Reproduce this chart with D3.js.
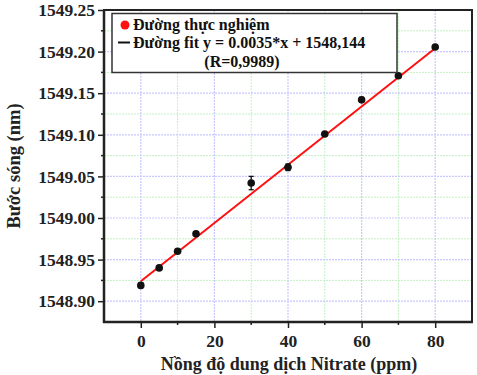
<!DOCTYPE html>
<html><head><meta charset="utf-8">
<script src="https://cdn.jsdelivr.net/npm/d3@7"></script>
<style>body{margin:0;background:#fff}svg{display:block}
svg text{font-family:"Liberation Serif","Times New Roman",Times,serif;font-weight:bold}</style>
</head><body>
<script>
const conc = [0, 5, 10, 15, 30, 40, 50, 60, 70, 80];
const wavelength = [1548.919, 1548.940, 1548.960, 1548.981, 1549.042, 1549.061, 1549.101, 1549.142, 1549.171, 1549.2055];
const errors = [0.003, 0.001, 0.001, 0.002, 0.008, 0.004, 0.001, 0.003, 0.001, 0.001];
const fitSlope = 0.0035, fitIntercept = 1548.924;
const fitRange = [0, 80];
const xTicks = [0, 20, 40, 60, 80];
const xMinor = [-10, 10, 30, 50, 70, 90];
const yTicks = [1548.90, 1548.95, 1549.00, 1549.05, 1549.10, 1549.15, 1549.20, 1549.25];
const yMinor = [1548.925, 1548.975, 1549.025, 1549.075, 1549.125, 1549.175, 1549.225];
const legendLabels = ["Đường thực nghiệm", "Đường fit y = 0.0035*x + 1548,144", "(R=0,9989)"];
const xTitle = "Nồng độ dung dịch Nitrate (ppm)";
const yTitle = "Bước sóng (nm)";

const W = 477, H = 375;
const m = {l:104, t:10, r:472, b:322};
const svg = d3.select("body").append("svg").attr("width", W).attr("height", H);
const x = d3.scaleLinear().domain([-10, 90]).range([m.l, m.r]);
const y = d3.scaleLinear().domain([1548.875, 1549.25]).range([m.b, m.t]);

// grid
const g = svg.append("g");
g.selectAll(".gxm").data(xMinor).join("line").attr("x1", d=>x(d)).attr("x2", d=>x(d)).attr("y1", m.t).attr("y2", m.b)
  .attr("stroke", "#c4f0c4").attr("stroke-width", 1).attr("stroke-dasharray", "2,1");
g.selectAll(".gym").data(yMinor).join("line").attr("y1", d=>y(d)).attr("y2", d=>y(d)).attr("x1", m.l).attr("x2", m.r)
  .attr("stroke", "#c4f0c4").attr("stroke-width", 1).attr("stroke-dasharray", "2,1");
g.selectAll(".gx").data(xTicks).join("line").attr("x1", d=>x(d)).attr("x2", d=>x(d)).attr("y1", m.t).attr("y2", m.b)
  .attr("stroke", "#c8c8ff").attr("stroke-width", 1.2).attr("stroke-dasharray", "2,1");
g.selectAll(".gy").data(yTicks.filter(d=>d<1549.25)).join("line").attr("y1", d=>y(d)).attr("y2", d=>y(d)).attr("x1", m.l).attr("x2", m.r)
  .attr("stroke", "#c8c8ff").attr("stroke-width", 1.2).attr("stroke-dasharray", "2,1");

// axes
const xAxis = d3.axisBottom(x).tickValues(xTicks).tickSize(6).tickSizeOuter(0).tickPadding(7);
const ax = svg.append("g").attr("transform", `translate(0,${m.b})`).call(xAxis);
ax.select(".domain").remove();
const yAxis = d3.axisLeft(y).tickValues(yTicks).tickSize(6).tickSizeOuter(0).tickPadding(3).tickFormat(d3.format(".2f"));
const ay = svg.append("g").attr("transform", `translate(${m.l},0)`).call(yAxis);
ay.select(".domain").remove();
[ax, ay].forEach(a => {
  a.attr("font-family", null);
  a.selectAll("text").attr("font-size", 17.5).attr("fill", "#222");
  a.selectAll("line").attr("stroke", "#222").attr("stroke-width", 1.5);
});
svg.append("g").selectAll("line").data(xMinor.filter(d=>d>-10&&d<90)).join("line")
  .attr("x1", d=>x(d)).attr("x2", d=>x(d)).attr("y1", m.b).attr("y2", m.b+3).attr("stroke", "#222").attr("stroke-width", 1.5);
svg.append("g").selectAll("line").data(yMinor).join("line")
  .attr("y1", d=>y(d)).attr("y2", d=>y(d)).attr("x1", m.l-3).attr("x2", m.l).attr("stroke", "#222").attr("stroke-width", 1.5);

// frame
svg.append("rect").attr("x", m.l).attr("y", m.t).attr("width", m.r-m.l).attr("height", m.b-m.t)
  .attr("fill", "none").attr("stroke", "#222").attr("stroke-width", 2);
svg.append("line").attr("x1", m.l).attr("x2", m.l).attr("y1", m.t).attr("y2", m.b+1).attr("stroke", "#222").attr("stroke-width", 2.5);
svg.append("line").attr("x1", m.l-1).attr("x2", m.r+1).attr("y1", m.b).attr("y2", m.b).attr("stroke", "#222").attr("stroke-width", 2.5);

// fit line
svg.append("line").attr("x1", x(fitRange[0])).attr("y1", y(fitIntercept + fitSlope*fitRange[0]))
  .attr("x2", x(fitRange[1])).attr("y2", y(fitIntercept + fitSlope*fitRange[1]))
  .attr("stroke", "#ff1010").attr("stroke-width", 2);

// error bars & points
const pts = conc.map((c,i)=>({c, v:wavelength[i], e:errors[i]}));
const eb = svg.append("g").attr("stroke", "#111").attr("stroke-width", 1.3);
pts.forEach(p => {
  eb.append("line").attr("x1", x(p.c)).attr("x2", x(p.c)).attr("y1", y(p.v-p.e)).attr("y2", y(p.v+p.e));
  [p.v-p.e, p.v+p.e].forEach(v => eb.append("line").attr("x1", x(p.c)-2.5).attr("x2", x(p.c)+2.5).attr("y1", y(v)).attr("y2", y(v)));
});
svg.append("g").selectAll("circle").data(pts).join("circle")
  .attr("cx", d=>x(d.c)).attr("cy", d=>y(d.v)).attr("r", 3.8).attr("fill", "#111");

// legend
svg.append("rect").attr("x", 112).attr("y", 13.5).attr("width", 285).attr("height", 59)
  .attr("fill", "#fff").attr("stroke", "#333").attr("stroke-width", 1.5);
svg.append("circle").attr("cx", 125).attr("cy", 25).attr("r", 4.5).attr("fill", "#ff1010");
svg.append("line").attr("x1", 118).attr("x2", 130).attr("y1", 42.5).attr("y2", 42.5).attr("stroke", "#111").attr("stroke-width", 2);
const lt = svg.append("g").attr("font-size", 16).attr("fill", "#111");
lt.append("text").attr("x", 133).attr("y", 30).text(legendLabels[0]);
lt.append("text").attr("x", 133).attr("y", 48).text(legendLabels[1]);
lt.append("text").attr("x", 242).attr("y", 67).attr("text-anchor", "middle").text(legendLabels[2]);

// titles
svg.append("text").attr("x", (m.l+m.r)/2+1).attr("y", 370).attr("text-anchor", "middle")
  .attr("font-size", 18).attr("fill", "#222").text(xTitle);
svg.append("text").attr("transform", `translate(20,${(m.t+m.b)/2}) rotate(-90)`).attr("text-anchor", "middle")
  .attr("font-size", 18.5).attr("fill", "#222").text(yTitle);
</script>
</body></html>
